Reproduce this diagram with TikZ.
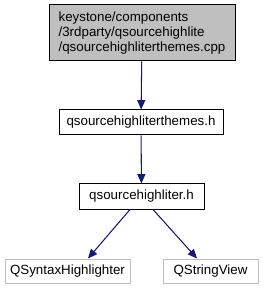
\documentclass[tikz,border=0pt]{standalone}
\usepackage{fontspec}
\setmainfont{Liberation Sans}
\usetikzlibrary{arrows.meta}
\definecolor{edgec}{HTML}{191970}
\definecolor{boxgray}{HTML}{BFBFBF}
\tikzset{
  px/.style={x=0.75pt,y=-0.75pt},
  filebox/.style={draw=black, line width=0.75pt, fill=white, inner sep=0pt, font=\fontsize{10pt}{11.25pt}\selectfont},
  extbox/.style={draw=boxgray, line width=0.75pt, fill=white, inner sep=0pt, font=\fontsize{10pt}{11.25pt}\selectfont, text=black},
  dep/.style={draw=edgec!80!white, line width=0.8pt, -{Triangle[length=7pt,width=6pt]}, color=edgec}
}
\begin{document}
\begin{tikzpicture}[px]
\useasboundingbox (0,0) rectangle (264,291);
\node[filebox, fill=boxgray, minimum width=186*0.75pt, minimum height=56*0.75pt, align=left] (src) at (142,33) {keystone/components\\/3rdparty/qsourcehighlite\\/qsourcehighliterthemes.cpp};
\node[filebox, minimum width=164*0.75pt, minimum height=25*0.75pt] (themes) at (141,122.5) {qsourcehighliterthemes.h};
\node[filebox, minimum width=125*0.75pt, minimum height=25*0.75pt] (hl) at (141.5,196.5) {qsourcehighliter.h};
\node[extbox, minimum width=125*0.75pt, minimum height=24*0.75pt] (qsh) at (67.5,271) {QSyntaxHighlighter};
\node[extbox, minimum width=95*0.75pt, minimum height=24*0.75pt] (qsv) at (210.5,271) {QStringView};
\draw[dep] (src) -- (themes);
\draw[dep] (themes) -- (hl);
\draw[dep] (hl.south -| 130,0) -- (qsh.north -| 88,0);
\draw[dep] (hl.south -| 153,0) -- (qsv.north -| 197,0);
\end{tikzpicture}
\end{document}
